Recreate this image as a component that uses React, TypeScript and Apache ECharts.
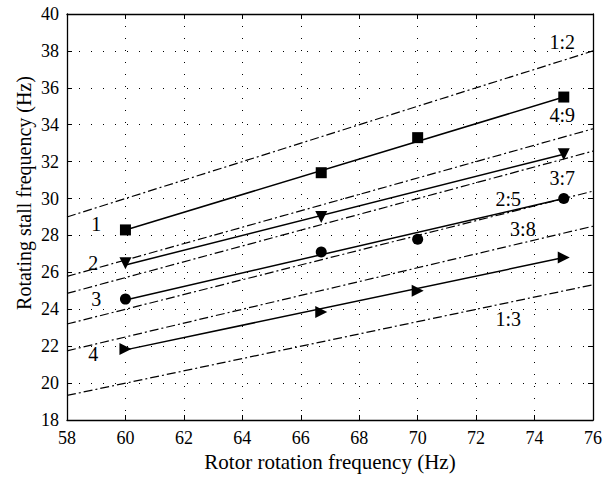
import React, { useEffect, useRef } from "react";
import * as echarts from "echarts";

const xTicks = { min: 58, max: 76, interval: 2 };
const yTicks = { min: 18, max: 40, interval: 2 };

// Measured points
const s1Points = [[60, 28.3], [66.7, 31.4], [70, 33.3], [75, 35.5]];
const s2Points = [[60, 26.5], [66.7, 29.0], [75, 32.4]];
const s3Points = [[60, 24.55], [66.7, 27.1], [70, 27.8], [75, 30.0]];
const s4Points = [[60, 21.85], [66.7, 23.85], [70, 25.0], [75, 26.8]];

// Fitted straight lines (endpoints)
const s1Fit = [[60, 28.3], [75, 35.5]];
const s2Fit = [[60, 26.4], [75, 32.4]];
const s3Fit = [[60, 24.5], [75, 30.0]];
const s4Fit = [[60, 21.8], [75, 26.8]];

// Frequency ratio lines (endpoints)
const ratio12 = [[58, 29.0], [76, 38.0]];
const ratio49 = [[58, 25.78], [76, 33.78]];
const ratio37 = [[58, 24.86], [76, 32.57]];
const ratio25 = [[58, 23.2], [76, 30.4]];
const ratio38 = [[58, 21.75], [76, 28.5]];
const ratio13 = [[58, 19.33], [76, 25.33]];

const labelNames = ["1:2", "4:9", "3:7", "2:5", "3:8", "1:3", "1", "2", "3", "4"];
const labelPositions = [
  [74.95, 38.5],
  [74.95, 34.55],
  [74.95, 31.1],
  [73.1, 30.0],
  [73.6, 28.35],
  [73.1, 23.45],
  [59.0, 28.6],
  [58.9, 26.5],
  [59.0, 24.55],
  [58.9, 21.6],
];

const FONT = "'Liberation Serif', 'Times New Roman', serif";

export default function App() {
  const ref = useRef<HTMLDivElement>(null);
  useEffect(() => {
    if (!ref.current) return;
    const chart = echarts.init(ref.current, null, { renderer: "svg" });
    const dashDot = [9, 3, 2, 3];
    const ratioSeries = [ratio12, ratio49, ratio37, ratio25, ratio38, ratio13].map((d) => ({
      type: "line",
      data: d,
      symbol: "none",
      lineStyle: { color: "#000", width: 1.2, type: dashDot },
      z: 2,
    }));
    const fitSeries = [s1Fit, s2Fit, s3Fit, s4Fit].map((d) => ({
      type: "line",
      data: d,
      symbol: "none",
      lineStyle: { color: "#000", width: 1.5 },
      z: 3,
    }));
    const markSeries: any[] = [
      { data: s1Points, symbol: "rect", symbolSize: 11, symbolRotate: 0 },
      { data: s2Points, symbol: "triangle", symbolSize: 12, symbolRotate: 180 },
      { data: s3Points, symbol: "circle", symbolSize: 11, symbolRotate: 0 },
      { data: s4Points, symbol: "triangle", symbolSize: 12, symbolRotate: -90 },
    ].map((m) => ({
      type: "scatter",
      data: m.data,
      symbol: m.symbol,
      symbolSize: m.symbolSize,
      symbolRotate: m.symbolRotate,
      itemStyle: { color: "#000", opacity: 1 },
      z: 4,
    }));
    const textSeries = {
      type: "custom",
      data: labelPositions,
      z: 5,
      silent: true,
      renderItem: (params: any, api: any) => {
        const p = api.coord([api.value(0), api.value(1)]);
        return {
          type: "text",
          x: p[0],
          y: p[1],
          style: {
            text: labelNames[params.dataIndex],
            fill: "#000",
            fontFamily: FONT,
            fontSize: 20,
            align: "center",
            verticalAlign: "middle",
          },
        };
      },
    };
    const axisCommon = {
      axisLine: { show: true, onZero: false, lineStyle: { color: "#000", width: 1.3 } },
      axisTick: { show: true, inside: true, length: 5, lineStyle: { color: "#000" } },
    };
    chart.setOption({
      animation: false,
      backgroundColor: "#fff",
      grid: { left: 67, right: 9, top: 14, bottom: 63 },
      graphic: [
        {
          type: "text",
          x: 24,
          y: 193,
          rotation: Math.PI / 2,
          style: {
            text: "Rotating stall frequency (Hz)",
            fill: "#000",
            fontFamily: FONT,
            fontSize: 20,
            align: "center",
            verticalAlign: "middle",
          },
        },
      ],
      xAxis: [
        {
          type: "value",
          ...xTicks,
          ...axisCommon,
          position: "bottom",
          axisLabel: { color: "#000", fontFamily: FONT, fontSize: 18, margin: 9 },
          splitLine: { show: true, lineStyle: { color: "#000", width: 1, type: [1, 11] } },
          name: "Rotor rotation frequency (Hz)",
          nameLocation: "middle",
          nameGap: 30,
          nameTextStyle: { color: "#000", fontFamily: FONT, fontSize: 21 },
        },
        {
          type: "value",
          ...xTicks,
          ...axisCommon,
          position: "top",
          axisLabel: { show: false },
          splitLine: { show: false },
        },
      ],
      yAxis: [
        {
          type: "value",
          ...yTicks,
          ...axisCommon,
          position: "left",
          axisLabel: { color: "#000", fontFamily: FONT, fontSize: 18, margin: 8 },
          splitLine: { show: true, lineStyle: { color: "#000", width: 1, type: [1, 11] } },
        },
        {
          type: "value",
          ...yTicks,
          ...axisCommon,
          position: "right",
          axisLabel: { show: false },
          splitLine: { show: false },
        },
      ],
      series: [...ratioSeries, ...fitSeries, ...markSeries, textSeries],
    });
    return () => chart.dispose();
  }, []);
  return (
    <div
      ref={ref}
      style={{ position: "absolute", left: 0, top: 0, width: 605, height: 483 }}
    />
  );
}
